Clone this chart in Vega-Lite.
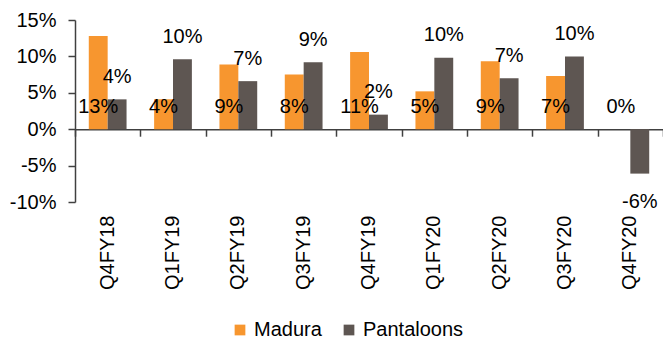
{
  "$schema": "https://vega.github.io/schema/vega-lite/v6.json",
  "width": 588,
  "height": 182,
  "autosize": {"type": "none"},
  "padding": {"left": 75, "top": 20, "right": 0, "bottom": 143},
  "background": "white",
  "config": {"view": {"stroke": null}, "font": "Liberation Sans", "axis": {"grid": false}},
  "data": {"values": [
    {"q": "Q4FY18", "series": "Madura", "value": 12.8},
    {"q": "Q4FY18", "series": "Pantaloons", "value": 4.1},
    {"q": "Q1FY19", "series": "Madura", "value": 4.1},
    {"q": "Q1FY19", "series": "Pantaloons", "value": 9.6},
    {"q": "Q2FY19", "series": "Madura", "value": 8.9},
    {"q": "Q2FY19", "series": "Pantaloons", "value": 6.6},
    {"q": "Q3FY19", "series": "Madura", "value": 7.5},
    {"q": "Q3FY19", "series": "Pantaloons", "value": 9.2},
    {"q": "Q4FY19", "series": "Madura", "value": 10.6},
    {"q": "Q4FY19", "series": "Pantaloons", "value": 2.0},
    {"q": "Q1FY20", "series": "Madura", "value": 5.2},
    {"q": "Q1FY20", "series": "Pantaloons", "value": 9.8},
    {"q": "Q2FY20", "series": "Madura", "value": 9.35},
    {"q": "Q2FY20", "series": "Pantaloons", "value": 7.0},
    {"q": "Q3FY20", "series": "Madura", "value": 7.3},
    {"q": "Q3FY20", "series": "Pantaloons", "value": 10.0},
    {"q": "Q4FY20", "series": "Madura", "value": 0},
    {"q": "Q4FY20", "series": "Pantaloons", "value": -6.1}
  ]},
  "transform": [{"calculate": "round(datum.value) + '%'", "as": "label"}],
  "resolve": {"axis": {"x": "independent"}},
  "layer": [
    {
      "mark": {"type": "bar"},
      "encoding": {
        "x": {"field": "q", "type": "nominal", "sort": null,
              "scale": {"paddingInner": 0, "paddingOuter": 0},
              "axis": {"title": null, "orient": "bottom", "labelAngle": -90, "labelFontSize": 20, "labelColor": "#000", "labelPadding": 13, "ticks": false, "tickSize": 0, "domain": false}},
        "xOffset": {"field": "series", "type": "nominal",
                    "scale": {"domain": ["Madura", "Pantaloons"], "paddingInner": 0, "paddingOuter": 0.73}},
        "y": {"field": "value", "type": "quantitative",
              "scale": {"domain": [-10, 15], "nice": false, "zero": false},
              "axis": {"title": null, "values": [-10, -5, 0, 5, 10, 15], "labelExpr": "datum.value + '%'", "labelFontSize": 20, "labelColor": "#000", "labelOverlap": false, "labelFlush": false, "tickSize": 7, "labelPadding": 12, "domainColor": "#404040", "tickColor": "#404040", "domainWidth": 1.5, "tickWidth": 1.5}},
        "color": {"field": "series", "type": "nominal",
                  "scale": {"domain": ["Madura", "Pantaloons"], "range": ["#F7962F", "#5E5652"]},
                  "legend": {"title": null, "orient": "none", "legendX": 155, "legendY": 300, "direction": "horizontal", "symbolType": "square", "symbolSize": 115, "symbolStrokeWidth": 0, "labelFontSize": 20, "labelColor": "#000", "columnPadding": 17, "labelOffset": 4}}
      }
    },
    {
      "transform": [{"filter": "datum.series === 'Madura'"}],
      "mark": {"type": "text", "fontSize": 20, "color": "#000", "baseline": "alphabetic", "dy": -16},
      "encoding": {
        "x": {"field": "q", "type": "nominal", "sort": null,
              "axis": {"title": null, "orient": "bottom", "labels": false, "ticks": true, "tickBand": "extent", "tickSize": 7, "domain": true, "offset": -72.8, "domainColor": "#404040", "tickColor": "#404040", "domainWidth": 1.5, "tickWidth": 1.5}},
        "xOffset": {"field": "series", "type": "nominal"},
        "y": {"datum": 0, "type": "quantitative",
              "axis": {"title": null, "values": [-10, -5, 0, 5, 10, 15], "labelExpr": "datum.value + '%'", "labelFontSize": 20, "labelColor": "#000", "labelOverlap": false, "labelFlush": false, "tickSize": 7, "labelPadding": 12, "domainColor": "#404040", "tickColor": "#404040", "domainWidth": 1.5, "tickWidth": 1.5}},
        "text": {"field": "label"}
      }
    },
    {
      "transform": [{"filter": "datum.series === 'Pantaloons' && datum.value >= 0"}],
      "mark": {"type": "text", "fontSize": 20, "color": "#000", "baseline": "alphabetic", "dy": -16.5},
      "encoding": {
        "x": {"field": "q", "type": "nominal", "sort": null, "axis": null},
        "xOffset": {"field": "series", "type": "nominal"},
        "y": {"field": "value", "type": "quantitative",
              "axis": {"title": null, "values": [-10, -5, 0, 5, 10, 15], "labelExpr": "datum.value + '%'", "labelFontSize": 20, "labelColor": "#000", "labelOverlap": false, "labelFlush": false, "tickSize": 7, "labelPadding": 12, "domainColor": "#404040", "tickColor": "#404040", "domainWidth": 1.5, "tickWidth": 1.5}},
        "text": {"field": "label"}
      }
    },
    {
      "transform": [{"filter": "datum.series === 'Pantaloons' && datum.value < 0"}],
      "mark": {"type": "text", "fontSize": 20, "color": "#000", "baseline": "alphabetic", "dy": 34},
      "encoding": {
        "x": {"field": "q", "type": "nominal", "sort": null, "axis": null},
        "xOffset": {"field": "series", "type": "nominal"},
        "y": {"field": "value", "type": "quantitative",
              "axis": {"title": null, "values": [-10, -5, 0, 5, 10, 15], "labelExpr": "datum.value + '%'", "labelFontSize": 20, "labelColor": "#000", "labelOverlap": false, "labelFlush": false, "tickSize": 7, "labelPadding": 12, "domainColor": "#404040", "tickColor": "#404040", "domainWidth": 1.5, "tickWidth": 1.5}},
        "text": {"field": "label"}
      }
    }
  ]
}
